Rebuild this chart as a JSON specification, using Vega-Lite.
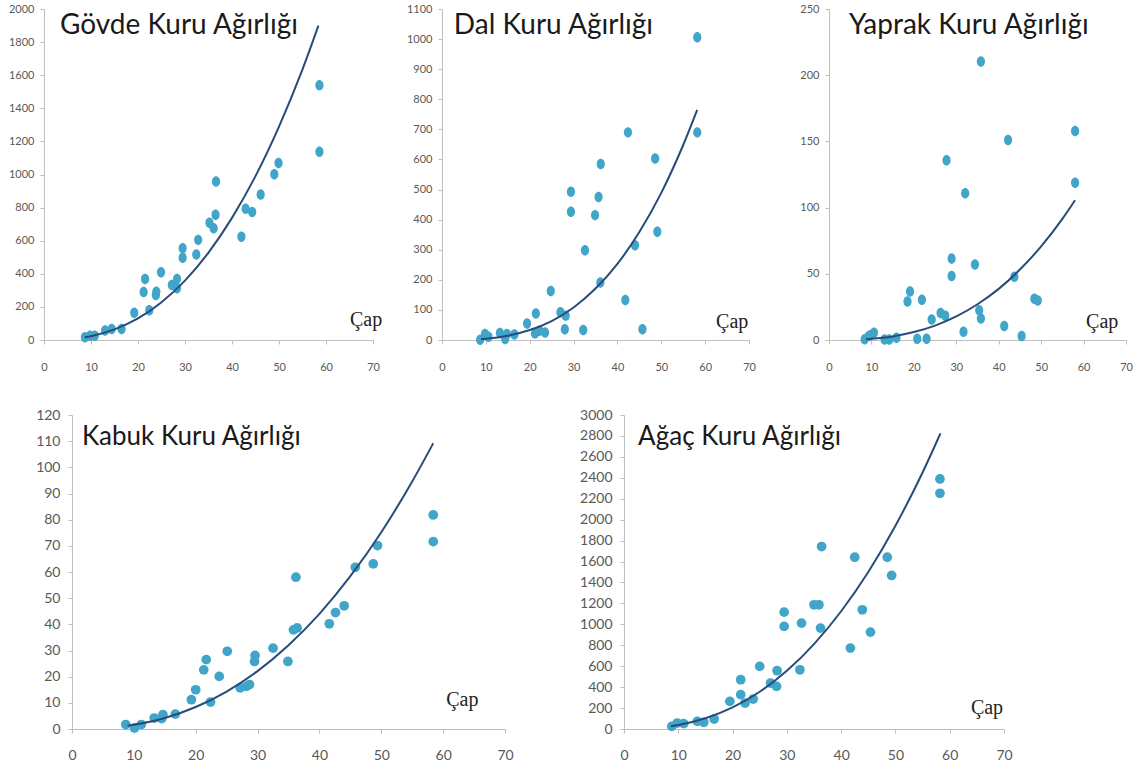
{
  "$schema": "https://vega.github.io/schema/vega-lite/v6.json",
  "background": "white",
  "padding": {"left": 2, "top": 3, "right": 0, "bottom": 0},
  "columns": 1,
  "align": "none",
  "spacing": 36,
  "config": {
    "view": {"stroke": null},
    "font": "Lato",
    "axis": {"grid": false, "domainColor": "#BFBFBF", "domainWidth": 1, "tickColor": "#BFBFBF", "tickSize": 4, "labelColor": "#595959", "labelFont": "Lato", "labelFlush": false, "labelOverlap": false, "title": null, "format": "d"}
  },
  "datasets": {
    "points": [
      {"panel": "Gövde", "cap": 8.7, "w": 16}, {"panel": "Gövde", "cap": 9.8, "w": 25}, {"panel": "Gövde", "cap": 10.8, "w": 25}, {"panel": "Gövde", "cap": 13, "w": 57}, {"panel": "Gövde", "cap": 14.4, "w": 67}, {"panel": "Gövde", "cap": 16.5, "w": 67}, {"panel": "Gövde", "cap": 19.2, "w": 164}, {"panel": "Gövde", "cap": 21.2, "w": 290}, {"panel": "Gövde", "cap": 21.5, "w": 368}, {"panel": "Gövde", "cap": 22.4, "w": 180}, {"panel": "Gövde", "cap": 23.8, "w": 272}, {"panel": "Gövde", "cap": 23.9, "w": 292}, {"panel": "Gövde", "cap": 24.9, "w": 409}, {"panel": "Gövde", "cap": 27.2, "w": 333}, {"panel": "Gövde", "cap": 28.3, "w": 313}, {"panel": "Gövde", "cap": 28.3, "w": 368}, {"panel": "Gövde", "cap": 29.5, "w": 497}, {"panel": "Gövde", "cap": 29.5, "w": 554}, {"panel": "Gövde", "cap": 32.4, "w": 517}, {"panel": "Gövde", "cap": 32.8, "w": 605}, {"panel": "Gövde", "cap": 35.2, "w": 708}, {"panel": "Gövde", "cap": 36.1, "w": 675}, {"panel": "Gövde", "cap": 36.5, "w": 757}, {"panel": "Gövde", "cap": 36.6, "w": 957}, {"panel": "Gövde", "cap": 42, "w": 624}, {"panel": "Gövde", "cap": 42.9, "w": 793}, {"panel": "Gövde", "cap": 44.3, "w": 773}, {"panel": "Gövde", "cap": 46.1, "w": 879}, {"panel": "Gövde", "cap": 49, "w": 1002}, {"panel": "Gövde", "cap": 49.9, "w": 1070}, {"panel": "Gövde", "cap": 58.6, "w": 1540}, {"panel": "Gövde", "cap": 58.6, "w": 1137},
      {"panel": "Dal", "cap": 8.7, "w": 0.5}, {"panel": "Dal", "cap": 9.8, "w": 20}, {"panel": "Dal", "cap": 10.6, "w": 11}, {"panel": "Dal", "cap": 13.2, "w": 23}, {"panel": "Dal", "cap": 14.4, "w": 3}, {"panel": "Dal", "cap": 14.8, "w": 20}, {"panel": "Dal", "cap": 16.5, "w": 18}, {"panel": "Dal", "cap": 19.4, "w": 55}, {"panel": "Dal", "cap": 21.4, "w": 88}, {"panel": "Dal", "cap": 21.2, "w": 22}, {"panel": "Dal", "cap": 22.2, "w": 31}, {"panel": "Dal", "cap": 23.5, "w": 25}, {"panel": "Dal", "cap": 24.8, "w": 163}, {"panel": "Dal", "cap": 27, "w": 92}, {"panel": "Dal", "cap": 28, "w": 36}, {"panel": "Dal", "cap": 28.2, "w": 81}, {"panel": "Dal", "cap": 29.4, "w": 493}, {"panel": "Dal", "cap": 29.4, "w": 426}, {"panel": "Dal", "cap": 32.2, "w": 33}, {"panel": "Dal", "cap": 32.6, "w": 298}, {"panel": "Dal", "cap": 34.9, "w": 415}, {"panel": "Dal", "cap": 35.7, "w": 475}, {"panel": "Dal", "cap": 36.1, "w": 191}, {"panel": "Dal", "cap": 36.2, "w": 585}, {"panel": "Dal", "cap": 41.8, "w": 133}, {"panel": "Dal", "cap": 42.4, "w": 690}, {"panel": "Dal", "cap": 44, "w": 315}, {"panel": "Dal", "cap": 45.7, "w": 36}, {"panel": "Dal", "cap": 48.6, "w": 603}, {"panel": "Dal", "cap": 49.1, "w": 360}, {"panel": "Dal", "cap": 58.2, "w": 1006}, {"panel": "Dal", "cap": 58.2, "w": 690},
      {"panel": "Yaprak", "cap": 8.4, "w": 0.5}, {"panel": "Yaprak", "cap": 9.4, "w": 3}, {"panel": "Yaprak", "cap": 9.8, "w": 3.5}, {"panel": "Yaprak", "cap": 10.6, "w": 5.5}, {"panel": "Yaprak", "cap": 13.1, "w": 0.3}, {"panel": "Yaprak", "cap": 14.2, "w": 0.3}, {"panel": "Yaprak", "cap": 15.9, "w": 1.7}, {"panel": "Yaprak", "cap": 18.5, "w": 29}, {"panel": "Yaprak", "cap": 19.1, "w": 36.6}, {"panel": "Yaprak", "cap": 20.8, "w": 1}, {"panel": "Yaprak", "cap": 21.9, "w": 30.4}, {"panel": "Yaprak", "cap": 23, "w": 1}, {"panel": "Yaprak", "cap": 24.2, "w": 15.4}, {"panel": "Yaprak", "cap": 26.3, "w": 20.4}, {"panel": "Yaprak", "cap": 27.4, "w": 18.4}, {"panel": "Yaprak", "cap": 27.7, "w": 135.7}, {"panel": "Yaprak", "cap": 28.9, "w": 61.5}, {"panel": "Yaprak", "cap": 28.9, "w": 48.3}, {"panel": "Yaprak", "cap": 31.7, "w": 6.2}, {"panel": "Yaprak", "cap": 32.1, "w": 110.8}, {"panel": "Yaprak", "cap": 34.4, "w": 57}, {"panel": "Yaprak", "cap": 35.4, "w": 22.4}, {"panel": "Yaprak", "cap": 35.8, "w": 16.2}, {"panel": "Yaprak", "cap": 35.8, "w": 210.4}, {"panel": "Yaprak", "cap": 41.3, "w": 10.5}, {"panel": "Yaprak", "cap": 42.2, "w": 151.1}, {"panel": "Yaprak", "cap": 43.7, "w": 47.8}, {"panel": "Yaprak", "cap": 45.4, "w": 3}, {"panel": "Yaprak", "cap": 48.4, "w": 31.1}, {"panel": "Yaprak", "cap": 49.2, "w": 29.9}, {"panel": "Yaprak", "cap": 58, "w": 157.9}, {"panel": "Yaprak", "cap": 58, "w": 118.8},
      {"panel": "Kabuk", "cap": 8.7, "w": 1.7}, {"panel": "Kabuk", "cap": 10.1, "w": 0.4}, {"panel": "Kabuk", "cap": 11.2, "w": 1.7}, {"panel": "Kabuk", "cap": 13.3, "w": 4.2}, {"panel": "Kabuk", "cap": 14.7, "w": 5.5}, {"panel": "Kabuk", "cap": 14.5, "w": 4}, {"panel": "Kabuk", "cap": 16.7, "w": 5.7}, {"panel": "Kabuk", "cap": 19.3, "w": 11.2}, {"panel": "Kabuk", "cap": 20, "w": 15}, {"panel": "Kabuk", "cap": 21.3, "w": 22.6}, {"panel": "Kabuk", "cap": 21.7, "w": 26.5}, {"panel": "Kabuk", "cap": 22.4, "w": 10.3}, {"panel": "Kabuk", "cap": 23.8, "w": 20.1}, {"panel": "Kabuk", "cap": 25.1, "w": 29.7}, {"panel": "Kabuk", "cap": 27.2, "w": 15.7}, {"panel": "Kabuk", "cap": 28.2, "w": 16.3}, {"panel": "Kabuk", "cap": 28.7, "w": 17}, {"panel": "Kabuk", "cap": 29.5, "w": 25.8}, {"panel": "Kabuk", "cap": 29.6, "w": 28.1}, {"panel": "Kabuk", "cap": 32.5, "w": 30.9}, {"panel": "Kabuk", "cap": 34.9, "w": 25.8}, {"panel": "Kabuk", "cap": 35.8, "w": 37.9}, {"panel": "Kabuk", "cap": 36.2, "w": 58}, {"panel": "Kabuk", "cap": 36.4, "w": 38.6}, {"panel": "Kabuk", "cap": 41.6, "w": 40.2}, {"panel": "Kabuk", "cap": 42.6, "w": 44.5}, {"panel": "Kabuk", "cap": 44, "w": 47.1}, {"panel": "Kabuk", "cap": 45.8, "w": 61.8}, {"panel": "Kabuk", "cap": 48.7, "w": 63.1}, {"panel": "Kabuk", "cap": 49.4, "w": 70.1}, {"panel": "Kabuk", "cap": 58.4, "w": 81.8}, {"panel": "Kabuk", "cap": 58.4, "w": 71.6},
      {"panel": "Ağaç", "cap": 8.8, "w": 25}, {"panel": "Ağaç", "cap": 9.8, "w": 57}, {"panel": "Ağaç", "cap": 11, "w": 51}, {"panel": "Ağaç", "cap": 13.5, "w": 73}, {"panel": "Ağaç", "cap": 14.7, "w": 64}, {"panel": "Ağaç", "cap": 16.6, "w": 95}, {"panel": "Ağaç", "cap": 19.5, "w": 264}, {"panel": "Ağaç", "cap": 21.5, "w": 328}, {"panel": "Ağaç", "cap": 21.5, "w": 471}, {"panel": "Ağaç", "cap": 22.3, "w": 248}, {"panel": "Ağaç", "cap": 23.8, "w": 286}, {"panel": "Ağaç", "cap": 25, "w": 598}, {"panel": "Ağaç", "cap": 27, "w": 439}, {"panel": "Ağaç", "cap": 28.1, "w": 407}, {"panel": "Ağaç", "cap": 28.2, "w": 557}, {"panel": "Ağaç", "cap": 29.5, "w": 1117}, {"panel": "Ağaç", "cap": 29.5, "w": 980}, {"panel": "Ağaç", "cap": 32.4, "w": 566}, {"panel": "Ağaç", "cap": 32.7, "w": 1012}, {"panel": "Ağaç", "cap": 35, "w": 1187}, {"panel": "Ağaç", "cap": 35.9, "w": 1187}, {"panel": "Ağaç", "cap": 36.2, "w": 964}, {"panel": "Ağaç", "cap": 36.4, "w": 1743}, {"panel": "Ağaç", "cap": 41.7, "w": 773}, {"panel": "Ağaç", "cap": 42.5, "w": 1641}, {"panel": "Ağaç", "cap": 43.9, "w": 1139}, {"panel": "Ağaç", "cap": 45.4, "w": 926}, {"panel": "Ağaç", "cap": 48.5, "w": 1641}, {"panel": "Ağaç", "cap": 49.3, "w": 1467}, {"panel": "Ağaç", "cap": 58.2, "w": 2389}, {"panel": "Ağaç", "cap": 58.2, "w": 2252}
    ],
    "curves": [
      {"panel": "Gövde", "cap": 8.7, "w": 16}, {"panel": "Gövde", "cap": 10, "w": 23}, {"panel": "Gövde", "cap": 15, "w": 64}, {"panel": "Gövde", "cap": 20, "w": 130}, {"panel": "Gövde", "cap": 25, "w": 228}, {"panel": "Gövde", "cap": 30, "w": 359}, {"panel": "Gövde", "cap": 35, "w": 528}, {"panel": "Gövde", "cap": 40, "w": 738}, {"panel": "Gövde", "cap": 45, "w": 990}, {"panel": "Gövde", "cap": 50, "w": 1289}, {"panel": "Gövde", "cap": 55, "w": 1635}, {"panel": "Gövde", "cap": 58.4, "w": 1900},
      {"panel": "Dal", "cap": 8.9, "w": 3}, {"panel": "Dal", "cap": 10, "w": 4.2}, {"panel": "Dal", "cap": 15, "w": 14}, {"panel": "Dal", "cap": 20, "w": 33}, {"panel": "Dal", "cap": 25, "w": 63}, {"panel": "Dal", "cap": 30, "w": 108}, {"panel": "Dal", "cap": 35, "w": 171}, {"panel": "Dal", "cap": 40, "w": 253}, {"panel": "Dal", "cap": 45, "w": 359}, {"panel": "Dal", "cap": 50, "w": 489}, {"panel": "Dal", "cap": 55, "w": 648}, {"panel": "Dal", "cap": 58.2, "w": 765},
      {"panel": "Yaprak", "cap": 8.7, "w": 0.6}, {"panel": "Yaprak", "cap": 10, "w": 0.9}, {"panel": "Yaprak", "cap": 15, "w": 2.7}, {"panel": "Yaprak", "cap": 20, "w": 6}, {"panel": "Yaprak", "cap": 25, "w": 10.9}, {"panel": "Yaprak", "cap": 30, "w": 17.8}, {"panel": "Yaprak", "cap": 35, "w": 27}, {"panel": "Yaprak", "cap": 40, "w": 38.6}, {"panel": "Yaprak", "cap": 45, "w": 53.2}, {"panel": "Yaprak", "cap": 50, "w": 70.7}, {"panel": "Yaprak", "cap": 55, "w": 91.5}, {"panel": "Yaprak", "cap": 58, "w": 105.6},
      {"panel": "Kabuk", "cap": 9, "w": 1.2}, {"panel": "Kabuk", "cap": 10, "w": 1.6}, {"panel": "Kabuk", "cap": 15, "w": 4.2}, {"panel": "Kabuk", "cap": 20, "w": 8.4}, {"panel": "Kabuk", "cap": 25, "w": 14.3}, {"panel": "Kabuk", "cap": 30, "w": 22.1}, {"panel": "Kabuk", "cap": 35, "w": 32}, {"panel": "Kabuk", "cap": 40, "w": 44}, {"panel": "Kabuk", "cap": 45, "w": 58.4}, {"panel": "Kabuk", "cap": 50, "w": 75.2}, {"panel": "Kabuk", "cap": 55, "w": 94.6}, {"panel": "Kabuk", "cap": 58.4, "w": 109.2},
      {"panel": "Ağaç", "cap": 8.6, "w": 26}, {"panel": "Ağaç", "cap": 10, "w": 38}, {"panel": "Ağaç", "cap": 15, "w": 102}, {"panel": "Ağaç", "cap": 20, "w": 206}, {"panel": "Ağaç", "cap": 25, "w": 356}, {"panel": "Ağaç", "cap": 30, "w": 556}, {"panel": "Ağaç", "cap": 35, "w": 811}, {"panel": "Ağaç", "cap": 40, "w": 1125}, {"panel": "Ağaç", "cap": 45, "w": 1500}, {"panel": "Ağaç", "cap": 50, "w": 1942}, {"panel": "Ağaç", "cap": 55, "w": 2451}, {"panel": "Ağaç", "cap": 58.3, "w": 2825}
    ]
  },
  "concat": [
    {
      "spacing": 20,
      "hconcat": [
        {
          "width": 329, "height": 331,
          "layer": [
            {"data": {"name": "points"}, "transform": [{"filter": "datum.panel === 'Gövde'"}],
             "mark": {"type": "point", "filled": true, "shape": "M0,-1A0.78,1,0,1,1,0,1A0.78,1,0,1,1,0,-1Z", "size": 110, "color": "#41A5CA", "opacity": 1},
             "encoding": {
               "x": {"field": "cap", "type": "quantitative", "scale": {"domain": [0, 70], "nice": false}, "axis": {"values": [0, 10, 20, 30, 40, 50, 60, 70], "labelFontSize": 11, "labelPadding": 17, "labelOverlap": false, "format": "d"}},
               "y": {"field": "w", "type": "quantitative", "scale": {"domain": [0, 2000], "nice": false}, "axis": {"values": [0, 200, 400, 600, 800, 1000, 1200, 1400, 1600, 1800, 2000], "labelFontSize": 11, "labelPadding": 6, "minExtent": 42, "labelOverlap": false, "format": "d"}}
             }},
            {"data": {"name": "curves"}, "transform": [{"filter": "datum.panel === 'Gövde'"}],
             "mark": {"type": "line", "color": "#284C7A", "strokeWidth": 2, "interpolate": "monotone"},
             "encoding": {
               "x": {"field": "cap", "type": "quantitative", "scale": {"domain": [0, 70], "nice": false}, "axis": {"values": [0, 10, 20, 30, 40, 50, 60, 70], "labelFontSize": 11, "labelPadding": 17, "labelOverlap": false, "format": "d"}},
               "y": {"field": "w", "type": "quantitative", "scale": {"domain": [0, 2000], "nice": false}, "axis": {"values": [0, 200, 400, 600, 800, 1000, 1200, 1400, 1600, 1800, 2000], "labelFontSize": 11, "labelPadding": 6, "minExtent": 42, "labelOverlap": false, "format": "d"}}
             }},
            {"data": {"values": [{}]}, "mark": {"type": "text", "text": "Gövde Kuru Ağırlığı", "align": "left", "baseline": "alphabetic", "font": "Lato", "fontSize": 28, "color": "#1A1A1A"},
             "encoding": {
               "x": {"datum": 3.4, "type": "quantitative", "scale": {"domain": [0, 70], "nice": false}, "axis": {"values": [0, 10, 20, 30, 40, 50, 60, 70], "labelFontSize": 11, "labelPadding": 17, "labelOverlap": false, "format": "d"}},
               "y": {"datum": 1849, "type": "quantitative", "scale": {"domain": [0, 2000], "nice": false}, "axis": {"values": [0, 200, 400, 600, 800, 1000, 1200, 1400, 1600, 1800, 2000], "labelFontSize": 11, "labelPadding": 6, "minExtent": 42, "labelOverlap": false, "format": "d"}}
             }},
            {"data": {"values": [{}]}, "mark": {"type": "text", "text": "Çap", "align": "left", "baseline": "middle", "font": "Liberation Serif", "fontSize": 20, "color": "#222222"},
             "encoding": {
               "x": {"datum": 65.1, "type": "quantitative", "scale": {"domain": [0, 70], "nice": false}, "axis": {"values": [0, 10, 20, 30, 40, 50, 60, 70], "labelFontSize": 11, "labelPadding": 17, "labelOverlap": false, "format": "d"}},
               "y": {"datum": 121, "type": "quantitative", "scale": {"domain": [0, 2000], "nice": false}, "axis": {"values": [0, 200, 400, 600, 800, 1000, 1200, 1400, 1600, 1800, 2000], "labelFontSize": 11, "labelPadding": 6, "minExtent": 42, "labelOverlap": false, "format": "d"}}
             }}
          ]
        },
        {
          "width": 307, "height": 331,
          "layer": [
            {"data": {"name": "points"}, "transform": [{"filter": "datum.panel === 'Dal'"}],
             "mark": {"type": "point", "filled": true, "shape": "M0,-1A0.78,1,0,1,1,0,1A0.78,1,0,1,1,0,-1Z", "size": 110, "color": "#41A5CA", "opacity": 1},
             "encoding": {
               "x": {"field": "cap", "type": "quantitative", "scale": {"domain": [0, 70], "nice": false}, "axis": {"values": [0, 10, 20, 30, 40, 50, 60, 70], "labelFontSize": 11, "labelPadding": 17, "labelOverlap": false, "format": "d"}},
               "y": {"field": "w", "type": "quantitative", "scale": {"domain": [0, 1100], "nice": false}, "axis": {"values": [0, 100, 200, 300, 400, 500, 600, 700, 800, 900, 1000, 1100], "labelFontSize": 11, "labelPadding": 6, "minExtent": 39, "labelOverlap": false, "format": "d"}}
             }},
            {"data": {"name": "curves"}, "transform": [{"filter": "datum.panel === 'Dal'"}],
             "mark": {"type": "line", "color": "#284C7A", "strokeWidth": 2, "interpolate": "monotone"},
             "encoding": {
               "x": {"field": "cap", "type": "quantitative", "scale": {"domain": [0, 70], "nice": false}, "axis": {"values": [0, 10, 20, 30, 40, 50, 60, 70], "labelFontSize": 11, "labelPadding": 17, "labelOverlap": false, "format": "d"}},
               "y": {"field": "w", "type": "quantitative", "scale": {"domain": [0, 1100], "nice": false}, "axis": {"values": [0, 100, 200, 300, 400, 500, 600, 700, 800, 900, 1000, 1100], "labelFontSize": 11, "labelPadding": 6, "minExtent": 39, "labelOverlap": false, "format": "d"}}
             }},
            {"data": {"values": [{}]}, "mark": {"type": "text", "text": "Dal Kuru Ağırlığı", "align": "left", "baseline": "alphabetic", "font": "Lato", "fontSize": 28, "color": "#1A1A1A"},
             "encoding": {
               "x": {"datum": 2.7, "type": "quantitative", "scale": {"domain": [0, 70], "nice": false}, "axis": {"values": [0, 10, 20, 30, 40, 50, 60, 70], "labelFontSize": 11, "labelPadding": 17, "labelOverlap": false, "format": "d"}},
               "y": {"datum": 1017, "type": "quantitative", "scale": {"domain": [0, 1100], "nice": false}, "axis": {"values": [0, 100, 200, 300, 400, 500, 600, 700, 800, 900, 1000, 1100], "labelFontSize": 11, "labelPadding": 6, "minExtent": 39, "labelOverlap": false, "format": "d"}}
             }},
            {"data": {"values": [{}]}, "mark": {"type": "text", "text": "Çap", "align": "left", "baseline": "middle", "font": "Liberation Serif", "fontSize": 20, "color": "#222222"},
             "encoding": {
               "x": {"datum": 62.5, "type": "quantitative", "scale": {"domain": [0, 70], "nice": false}, "axis": {"values": [0, 10, 20, 30, 40, 50, 60, 70], "labelFontSize": 11, "labelPadding": 17, "labelOverlap": false, "format": "d"}},
               "y": {"datum": 60, "type": "quantitative", "scale": {"domain": [0, 1100], "nice": false}, "axis": {"values": [0, 100, 200, 300, 400, 500, 600, 700, 800, 900, 1000, 1100], "labelFontSize": 11, "labelPadding": 6, "minExtent": 39, "labelOverlap": false, "format": "d"}}
             }}
          ]
        },
        {
          "width": 297, "height": 331,
          "layer": [
            {"data": {"name": "points"}, "transform": [{"filter": "datum.panel === 'Yaprak'"}],
             "mark": {"type": "point", "filled": true, "shape": "M0,-1A0.78,1,0,1,1,0,1A0.78,1,0,1,1,0,-1Z", "size": 110, "color": "#41A5CA", "opacity": 1},
             "encoding": {
               "x": {"field": "cap", "type": "quantitative", "scale": {"domain": [0, 70], "nice": false}, "axis": {"values": [0, 10, 20, 30, 40, 50, 60, 70], "labelFontSize": 11, "labelPadding": 17, "labelOverlap": false, "format": "d"}},
               "y": {"field": "w", "type": "quantitative", "scale": {"domain": [0, 250], "nice": false}, "axis": {"values": [0, 50, 100, 150, 200, 250], "labelFontSize": 11, "labelPadding": 6, "minExtent": 53, "labelOverlap": false, "format": "d"}}
             }},
            {"data": {"name": "curves"}, "transform": [{"filter": "datum.panel === 'Yaprak'"}],
             "mark": {"type": "line", "color": "#284C7A", "strokeWidth": 2, "interpolate": "monotone"},
             "encoding": {
               "x": {"field": "cap", "type": "quantitative", "scale": {"domain": [0, 70], "nice": false}, "axis": {"values": [0, 10, 20, 30, 40, 50, 60, 70], "labelFontSize": 11, "labelPadding": 17, "labelOverlap": false, "format": "d"}},
               "y": {"field": "w", "type": "quantitative", "scale": {"domain": [0, 250], "nice": false}, "axis": {"values": [0, 50, 100, 150, 200, 250], "labelFontSize": 11, "labelPadding": 6, "minExtent": 53, "labelOverlap": false, "format": "d"}}
             }},
            {"data": {"values": [{}]}, "mark": {"type": "text", "text": "Yaprak Kuru Ağırlığı", "align": "left", "baseline": "alphabetic", "font": "Lato", "fontSize": 28, "color": "#1A1A1A"},
             "encoding": {
               "x": {"datum": 4.7, "type": "quantitative", "scale": {"domain": [0, 70], "nice": false}, "axis": {"values": [0, 10, 20, 30, 40, 50, 60, 70], "labelFontSize": 11, "labelPadding": 17, "labelOverlap": false, "format": "d"}},
               "y": {"datum": 231, "type": "quantitative", "scale": {"domain": [0, 250], "nice": false}, "axis": {"values": [0, 50, 100, 150, 200, 250], "labelFontSize": 11, "labelPadding": 6, "minExtent": 53, "labelOverlap": false, "format": "d"}}
             }},
            {"data": {"values": [{}]}, "mark": {"type": "text", "text": "Çap", "align": "left", "baseline": "middle", "font": "Liberation Serif", "fontSize": 20, "color": "#222222"},
             "encoding": {
               "x": {"datum": 60.6, "type": "quantitative", "scale": {"domain": [0, 70], "nice": false}, "axis": {"values": [0, 10, 20, 30, 40, 50, 60, 70], "labelFontSize": 11, "labelPadding": 17, "labelOverlap": false, "format": "d"}},
               "y": {"datum": 13.6, "type": "quantitative", "scale": {"domain": [0, 250], "nice": false}, "axis": {"values": [0, 50, 100, 150, 200, 250], "labelFontSize": 11, "labelPadding": 6, "minExtent": 53, "labelOverlap": false, "format": "d"}}
             }}
          ]
        }
      ]
    },
    {
      "spacing": 119,
      "bounds": "flush",
      "hconcat": [
        {
          "width": 461, "height": 314,
          "layer": [
            {"data": {"name": "points"}, "transform": [{"filter": "datum.panel === 'Kabuk'"}],
             "mark": {"type": "point", "filled": true, "shape": "circle", "size": 95, "color": "#41A5CA", "opacity": 1},
             "encoding": {
               "x": {"field": "cap", "type": "quantitative", "scale": {"domain": [0, 70], "range": [28, 461], "nice": false}, "axis": {"values": [0, 10, 20, 30, 40, 50, 60, 70], "labelFontSize": 14, "labelPadding": 15, "labelOverlap": false, "format": "d"}},
               "y": {"field": "w", "type": "quantitative", "scale": {"domain": [0, 120], "nice": false}, "axis": {"values": [0, 10, 20, 30, 40, 50, 60, 70, 80, 90, 100, 110, 120], "labelFontSize": 14, "labelPadding": 8, "offset": -28, "labelOverlap": false, "format": "d"}}
             }},
            {"data": {"name": "curves"}, "transform": [{"filter": "datum.panel === 'Kabuk'"}],
             "mark": {"type": "line", "color": "#284C7A", "strokeWidth": 2, "interpolate": "monotone"},
             "encoding": {
               "x": {"field": "cap", "type": "quantitative", "scale": {"domain": [0, 70], "range": [28, 461], "nice": false}, "axis": {"values": [0, 10, 20, 30, 40, 50, 60, 70], "labelFontSize": 14, "labelPadding": 15, "labelOverlap": false, "format": "d"}},
               "y": {"field": "w", "type": "quantitative", "scale": {"domain": [0, 120], "nice": false}, "axis": {"values": [0, 10, 20, 30, 40, 50, 60, 70, 80, 90, 100, 110, 120], "labelFontSize": 14, "labelPadding": 8, "offset": -28, "labelOverlap": false, "format": "d"}}
             }},
            {"data": {"values": [{}]}, "mark": {"type": "text", "text": "Kabuk Kuru Ağırlığı", "align": "left", "baseline": "alphabetic", "font": "Lato", "fontSize": 26, "color": "#1A1A1A"},
             "encoding": {
               "x": {"datum": 1.6, "type": "quantitative", "scale": {"domain": [0, 70], "range": [28, 461], "nice": false}, "axis": {"values": [0, 10, 20, 30, 40, 50, 60, 70], "labelFontSize": 14, "labelPadding": 15, "labelOverlap": false, "format": "d"}},
               "y": {"datum": 108.5, "type": "quantitative", "scale": {"domain": [0, 120], "nice": false}, "axis": {"values": [0, 10, 20, 30, 40, 50, 60, 70, 80, 90, 100, 110, 120], "labelFontSize": 14, "labelPadding": 8, "offset": -28, "labelOverlap": false, "format": "d"}}
             }},
            {"data": {"values": [{}]}, "mark": {"type": "text", "text": "Çap", "align": "left", "baseline": "middle", "font": "Liberation Serif", "fontSize": 20, "color": "#222222"},
             "encoding": {
               "x": {"datum": 60.5, "type": "quantitative", "scale": {"domain": [0, 70], "range": [28, 461], "nice": false}, "axis": {"values": [0, 10, 20, 30, 40, 50, 60, 70], "labelFontSize": 14, "labelPadding": 15, "labelOverlap": false, "format": "d"}},
               "y": {"datum": 11, "type": "quantitative", "scale": {"domain": [0, 120], "nice": false}, "axis": {"values": [0, 10, 20, 30, 40, 50, 60, 70, 80, 90, 100, 110, 120], "labelFontSize": 14, "labelPadding": 8, "offset": -28, "labelOverlap": false, "format": "d"}}
             }}
          ]
        },
        {
          "width": 380, "height": 314,
          "layer": [
            {"data": {"name": "points"}, "transform": [{"filter": "datum.panel === 'Ağaç'"}],
             "mark": {"type": "point", "filled": true, "shape": "circle", "size": 95, "color": "#41A5CA", "opacity": 1},
             "encoding": {
               "x": {"field": "cap", "type": "quantitative", "scale": {"domain": [0, 70], "nice": false}, "axis": {"values": [0, 10, 20, 30, 40, 50, 60, 70], "labelFontSize": 14, "labelPadding": 15, "labelOverlap": false, "format": "d"}},
               "y": {"field": "w", "type": "quantitative", "scale": {"domain": [0, 3000], "nice": false}, "axis": {"values": [0, 200, 400, 600, 800, 1000, 1200, 1400, 1600, 1800, 2000, 2200, 2400, 2600, 2800, 3000], "labelFontSize": 14, "labelPadding": 8, "labelOverlap": false, "format": "d"}}
             }},
            {"data": {"name": "curves"}, "transform": [{"filter": "datum.panel === 'Ağaç'"}],
             "mark": {"type": "line", "color": "#284C7A", "strokeWidth": 2, "interpolate": "monotone"},
             "encoding": {
               "x": {"field": "cap", "type": "quantitative", "scale": {"domain": [0, 70], "nice": false}, "axis": {"values": [0, 10, 20, 30, 40, 50, 60, 70], "labelFontSize": 14, "labelPadding": 15, "labelOverlap": false, "format": "d"}},
               "y": {"field": "w", "type": "quantitative", "scale": {"domain": [0, 3000], "nice": false}, "axis": {"values": [0, 200, 400, 600, 800, 1000, 1200, 1400, 1600, 1800, 2000, 2200, 2400, 2600, 2800, 3000], "labelFontSize": 14, "labelPadding": 8, "labelOverlap": false, "format": "d"}}
             }},
            {"data": {"values": [{}]}, "mark": {"type": "text", "text": "Ağaç Kuru Ağırlığı", "align": "left", "baseline": "alphabetic", "font": "Lato", "fontSize": 26, "color": "#1A1A1A"},
             "encoding": {
               "x": {"datum": 2.6, "type": "quantitative", "scale": {"domain": [0, 70], "nice": false}, "axis": {"values": [0, 10, 20, 30, 40, 50, 60, 70], "labelFontSize": 14, "labelPadding": 15, "labelOverlap": false, "format": "d"}},
               "y": {"datum": 2713, "type": "quantitative", "scale": {"domain": [0, 3000], "nice": false}, "axis": {"values": [0, 200, 400, 600, 800, 1000, 1200, 1400, 1600, 1800, 2000, 2200, 2400, 2600, 2800, 3000], "labelFontSize": 14, "labelPadding": 8, "labelOverlap": false, "format": "d"}}
             }},
            {"data": {"values": [{}]}, "mark": {"type": "text", "text": "Çap", "align": "left", "baseline": "middle", "font": "Liberation Serif", "fontSize": 20, "color": "#222222"},
             "encoding": {
               "x": {"datum": 63.9, "type": "quantitative", "scale": {"domain": [0, 70], "nice": false}, "axis": {"values": [0, 10, 20, 30, 40, 50, 60, 70], "labelFontSize": 14, "labelPadding": 15, "labelOverlap": false, "format": "d"}},
               "y": {"datum": 200, "type": "quantitative", "scale": {"domain": [0, 3000], "nice": false}, "axis": {"values": [0, 200, 400, 600, 800, 1000, 1200, 1400, 1600, 1800, 2000, 2200, 2400, 2600, 2800, 3000], "labelFontSize": 14, "labelPadding": 8, "labelOverlap": false, "format": "d"}}
             }}
          ]
        }
      ]
    }
  ]
}
